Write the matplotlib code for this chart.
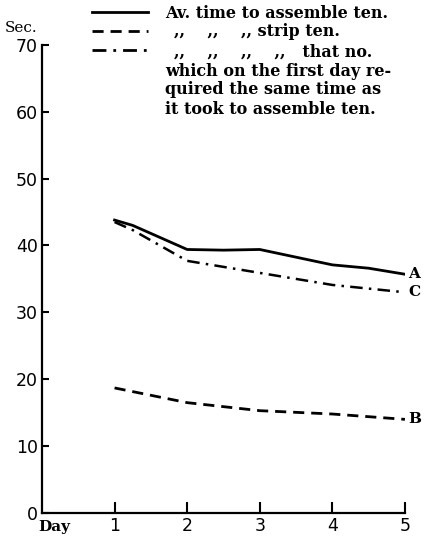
import matplotlib.pyplot as plt
from matplotlib.lines import Line2D

# values (seconds)
days_a = [1, 1.25, 2, 2.5, 3, 4, 4.5, 5]
assemble = [43.8, 43.0, 39.4, 39.3, 39.4, 37.1, 36.6, 35.7]

days_b = [1, 2, 3, 4, 5]
strip = [18.7, 16.5, 15.3, 14.8, 14.0]

days_c = [1, 1.25, 2, 3, 4, 5]
same_no = [43.5, 42.3, 37.7, 35.9, 34.1, 33.0]

yticks = [0, 10, 20, 30, 40, 50, 60, 70]
xticks = [1, 2, 3, 4, 5]

serif = ["DejaVu Serif"]
sans = ["DejaVu Sans"]

fig = plt.figure(figsize=(4.24, 5.4), dpi=100)
ax = fig.add_axes([0.099, 0.05, 0.856, 0.867])

ax.plot(days_a, assemble, color="black", lw=2.0, solid_joinstyle="round")
ax.plot(days_b, strip, color="black", lw=2.0, dashes=(4, 2.5))
ax.plot(days_c, same_no, color="black", lw=1.8, dashes=(5, 2.5, 1, 2.5))

ax.set_xlim(0, 5)
ax.set_ylim(0, 70)
ax.set_xticks(xticks)
ax.set_yticks(yticks)
ax.set_xticklabels([str(d) for d in xticks], fontfamily=sans, fontsize=12.5)
ax.set_yticklabels([str(v) for v in yticks], fontfamily=sans, fontsize=12.5)
ax.tick_params(axis="y", direction="in", length=5, width=1.5, pad=3)
ax.tick_params(axis="x", direction="in", length=8, width=1.5, pad=3)
for s in ["top", "right"]:
    ax.spines[s].set_visible(False)
for s in ["left", "bottom"]:
    ax.spines[s].set_linewidth(1.6)

# end labels
ax.text(5.05, assemble[-1], "A", fontfamily=serif, fontweight="bold", fontsize=11, va="center")
ax.text(5.05, strip[-1], "B", fontfamily=serif, fontweight="bold", fontsize=11, va="center")
ax.text(5.05, same_no[-1], "C", fontfamily=serif, fontweight="bold", fontsize=11, va="center")

fig.text(5 / 424, 1 - 28 / 540, "Sec.", fontfamily=serif, fontsize=11, va="center")
fig.text(38 / 424, 1 - 527 / 540, "Day", fontfamily=serif, fontweight="bold", fontsize=11, va="center")

# key
def key_line(y, **kw):
    fig.add_artist(Line2D([92 / 424, 148 / 424], [1 - y / 540] * 2,
                          transform=fig.transFigure, color="black", lw=2.0, **kw))

key_line(12)
key_line(31, dashes=(4, 2.5))
key_line(50, dashes=(5, 2.5, 1, 2.5))

lines = [
    "Av. time to assemble ten.",
    ",,    ,,    ,, strip ten.",
    ",,    ,,    ,,    ,,   that no.",
    "which on the first day re-",
    "quired the same time as",
    "it took to assemble ten.",
]
ys = [13, 32, 52, 71, 90, 109]
xs = [165, 174, 174, 165, 165, 165]
for t, y, x in zip(lines, ys, xs):
    fig.text(x / 424, 1 - y / 540, t, fontfamily=serif, fontweight="bold", fontsize=11.5, va="center")

fig.savefig("out.png", dpi=100)
